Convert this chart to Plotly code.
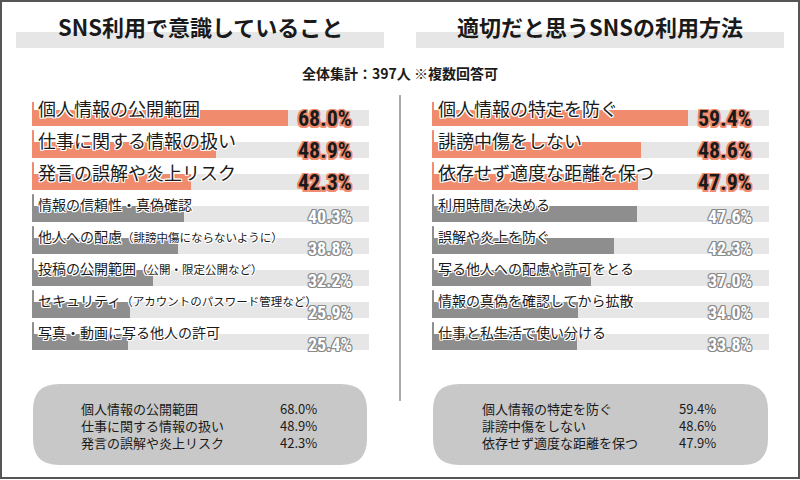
import plotly.graph_objects as go

# ---------------- data ----------------
left_title = "SNS利用で意識していること"
right_title = "適切だと思うSNSの利用方法"
subtitle = "全体集計：397人 ※複数回答可"

left_labels = [
    "個人情報の公開範囲",
    "仕事に関する情報の扱い",
    "発言の誤解や炎上リスク",
    "情報の信頼性・真偽確認",
    "他人への配慮（誹謗中傷にならないように）",
    "投稿の公開範囲（公開・限定公開など）",
    "セキュリティ（アカウントのパスワード管理など）",
    "写真・動画に写る他人の許可",
]
left_values = [68.0, 48.9, 42.3, 40.3, 38.8, 32.2, 25.9, 25.4]

right_labels = [
    "個人情報の特定を防ぐ",
    "誹謗中傷をしない",
    "依存せず適度な距離を保つ",
    "利用時間を決める",
    "誤解や炎上を防ぐ",
    "写る他人への配慮や許可をとる",
    "情報の真偽を確認してから拡散",
    "仕事と私生活で使い分ける",
]
right_values = [59.4, 48.6, 47.9, 47.6, 42.3, 37.0, 34.0, 33.8]

left_xmax = 89.4
right_xmax = 78.3
n_top = 3

# ---------------- style ----------------
W, H = 800, 480
ORANGE = "#f08b6d"
GRAY = "#8e8e8e"
TRACK = "#e6e6e6"
BOX = "#c8c8c8"
CJK = "Noto Sans CJK JP"
NUM = ("Noto Sans ExtraCondensed, Noto Sans Condensed, Roboto Condensed, "
       "DejaVu Sans Condensed, Liberation Sans Narrow, Noto Sans CJK JP")


def px(x):
    return x / W


def py(y):
    return 1 - y / H


def stroke(color, d=1):
    offs = [(d, 0), (-d, 0), (0, d), (0, -d), (d, d), (-d, -d), (d, -d), (-d, d)]
    return ", ".join(f"{a}px {b}px 0 {color}" for a, b in offs)


fig = go.Figure()
shapes = []
annotations = []

panels = [
    (left_labels, left_values, left_xmax, "x", "y", left_title, 200, [16, 384]),
    (right_labels, right_values, right_xmax, "x2", "y2", right_title, 600, [416, 784]),
]

ydom = [py(358), py(102)]

for k, (labels, values, xmax, xa, ya, title, tcx, band) in enumerate(panels):
    colors = [ORANGE if i < n_top else GRAY for i in range(len(values))]
    fig.add_trace(go.Bar(
        x=values, y=labels, orientation="h", width=0.5,
        marker=dict(color=colors, line=dict(width=0)),
        xaxis=xa, yaxis=ya, hoverinfo="skip", showlegend=False,
    ))
    xdomref = f"{xa} domain"
    for i, (lab, v) in enumerate(zip(labels, values)):
        shapes.append(dict(type="rect", xref=xdomref, yref=ya, x0=0, x1=1,
                           y0=i - 0.25, y1=i + 0.25, fillcolor=TRACK,
                           line=dict(width=0), layer="below"))
        shapes.append(dict(type="rect", xref=xdomref, yref=ya, x0=0, x1=0.006,
                           y0=i - 0.62, y1=i - 0.25, fillcolor=colors[i],
                           line=dict(width=0), layer="below"))
        big = i < n_top
        if "（" in lab:
            main, rest = lab.split("（", 1)
            text = f"{main}<span style='font-size:11.5px'>（{rest}</span>"
        else:
            text = lab
        annotations.append(dict(
            xref=xa, yref=ya, x=0, y=i, xanchor="left", yanchor="middle",
            xshift=5, yshift=10, showarrow=False, text=text, borderpad=0,
            font=dict(family=CJK, size=18 if big else 14, color="#1a1a1a",
                      shadow=stroke("#ffffff", 1)),
        ))
        annotations.append(dict(
            xref=xdomref, yref=ya, x=1, y=i, xanchor="right", yanchor="middle",
            xshift=-16, yshift=0 if big else -2, showarrow=False, borderpad=0,
            text=f"{v:.1f}%",
            font=dict(family=NUM, size=22 if big else 18, weight="bold",
                      color="#1a1a1a" if big else "#ffffff",
                      shadow=stroke(ORANGE, 1.5) if big else stroke("#8a8a8a", 1)),
        ))

    shapes.append(dict(type="rect", xref="paper", yref="paper",
                       x0=px(band[0]), x1=px(band[1]), y0=py(48), y1=py(32),
                       fillcolor=TRACK, line=dict(width=0), layer="below"))
    annotations.append(dict(xref="paper", yref="paper", x=px(tcx), y=py(26),
                            xanchor="center", yanchor="middle", showarrow=False,
                            text=title,
                            font=dict(family=CJK, size=22, weight="bold", color="#1a1a1a")))

    bx0, bx1 = (33, 367) if k == 0 else (433, 768)
    by0, by1 = 384, 465
    r = 26
    x0, x1, xr = px(bx0), px(bx1), r / W
    y0, y1, yr = py(by1), py(by0), r / H
    path = (f"M {x0 + xr},{y0} L {x1 - xr},{y0} Q {x1},{y0} {x1},{y0 + yr} "
            f"L {x1},{y1 - yr} Q {x1},{y1} {x1 - xr},{y1} L {x0 + xr},{y1} "
            f"Q {x0},{y1} {x0},{y1 - yr} L {x0},{y0 + yr} Q {x0},{y0} {x0 + xr},{y0} Z")
    shapes.append(dict(type="path", xref="paper", yref="paper", path=path,
                       fillcolor=BOX, line=dict(width=0), layer="below"))
    lx, vx = (80, 279) if k == 0 else (481, 678)
    annotations.append(dict(xref="paper", yref="paper", x=px(lx), y=py(425),
                            xanchor="left", yanchor="middle", align="left",
                            showarrow=False, borderpad=0,
                            text="<br>".join(labels[:n_top]),
                            font=dict(family=CJK, size=13, color="#1a1a1a")))
    annotations.append(dict(xref="paper", yref="paper", x=px(vx), y=py(425),
                            xanchor="left", yanchor="middle", align="left",
                            showarrow=False, borderpad=0,
                            text="<br>".join(f"{v:.1f}%" for v in values[:n_top]),
                            font=dict(family=CJK, size=13, color="#1a1a1a")))

annotations.append(dict(xref="paper", yref="paper", x=0.5, y=py(73),
                        xanchor="center", yanchor="middle", showarrow=False,
                        text=subtitle,
                        font=dict(family=CJK, size=14, weight="bold", color="#1a1a1a")))

shapes.append(dict(type="line", xref="paper", yref="paper", x0=0.5, x1=0.5,
                   y0=py(401), y1=py(95), line=dict(color="#aaaaaa", width=2)))
shapes.append(dict(type="rect", xref="paper", yref="paper", x0=px(1), x1=px(799),
                   y0=py(478), y1=py(1), line=dict(color="#555555", width=2),
                   fillcolor="rgba(0,0,0,0)"))

axis_common = dict(visible=False, fixedrange=True, showgrid=False, zeroline=False)
fig.update_layout(
    width=W, height=H, margin=dict(l=0, r=0, t=0, b=0),
    paper_bgcolor="white", plot_bgcolor="rgba(0,0,0,0)",
    bargap=0, showlegend=False,
    xaxis=dict(domain=[px(32), px(369)], range=[0, left_xmax], **axis_common),
    yaxis=dict(domain=ydom, type="category", categoryorder="array",
               categoryarray=left_labels, range=[7.5, -0.5], anchor="x", **axis_common),
    xaxis2=dict(domain=[px(432), px(769)], range=[0, right_xmax], anchor="y2", **axis_common),
    yaxis2=dict(domain=ydom, type="category", categoryorder="array",
                categoryarray=right_labels, range=[7.5, -0.5], anchor="x2", **axis_common),
    shapes=shapes, annotations=annotations,
)

fig.write_html("out.html", config={"displayModeBar": False},
               post_script="document.body.style.margin='0';document.body.style.overflow='hidden';")
